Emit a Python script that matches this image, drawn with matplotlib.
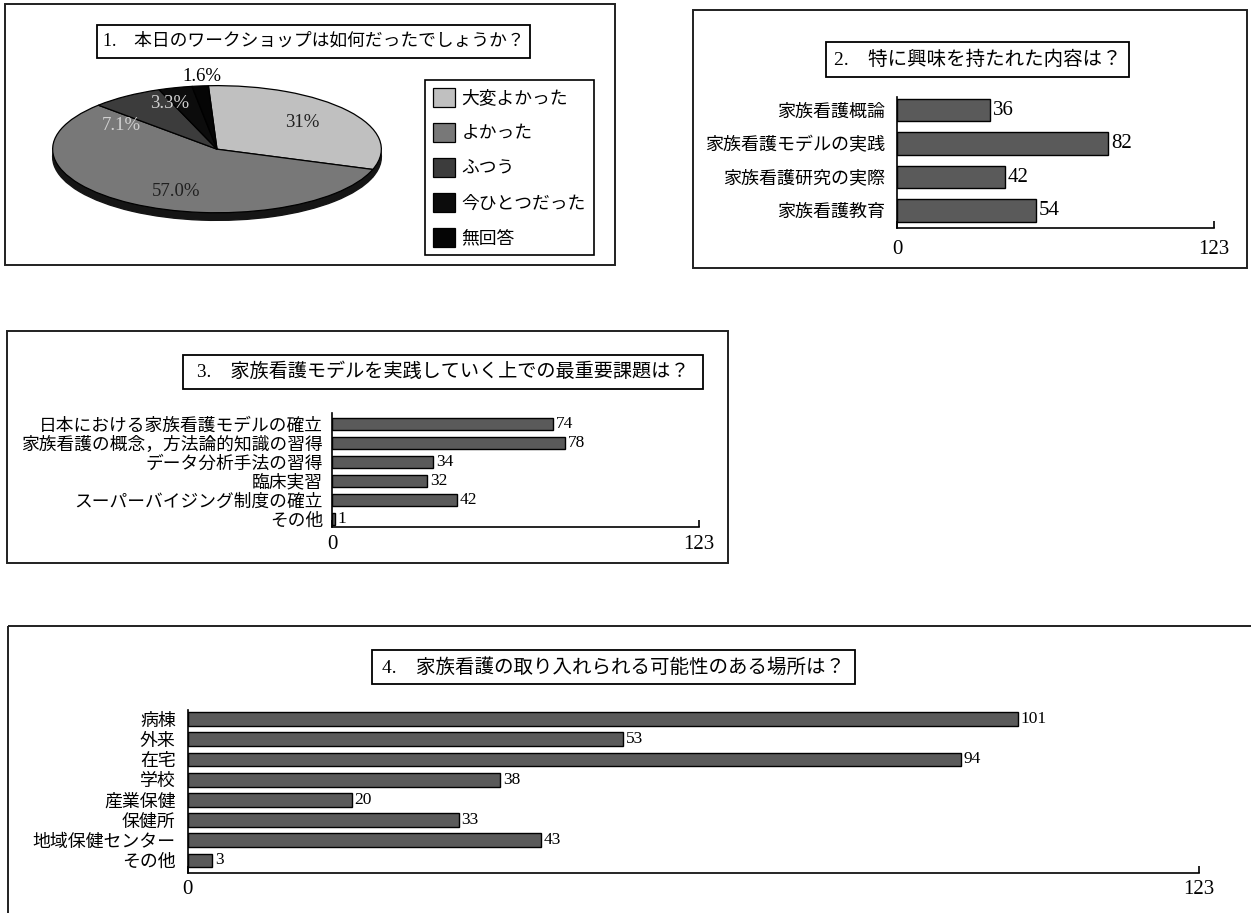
import matplotlib
matplotlib.use('Agg')
import matplotlib.pyplot as plt
from matplotlib.patches import Rectangle

plt.rcParams['font.family'] = ['Liberation Serif', 'Noto Sans CJK JP']

# 1. pie
pie_labels = ['大変よかった', 'よかった', 'ふつう', '今ひとつだった', '無回答']
pie_values = [31, 57.0, 7.1, 3.3, 1.6]
pie_pct = ['31%', '57.0%', '7.1%', '3.3%', '1.6%']

# 2. interest
cats2 = ['家族看護概論', '家族看護モデルの実践', '家族看護研究の実際', '家族看護教育']
vals2 = [36, 82, 42, 54]

# 3. most important issue
cats3 = ['日本における家族看護モデルの確立', '家族看護の概念，方法論的知識の習得',
         'データ分析手法の習得', '臨床実習', 'スーパーバイジング制度の確立', 'その他']
vals3 = [74, 78, 34, 32, 42, 1]

# 4. places
cats4 = ['病棟', '外来', '在宅', '学校', '産業保健', '保健所', '地域保健センター', 'その他']
vals4 = [101, 53, 94, 38, 20, 33, 43, 3]

x_max = 123

W, H = 1251, 913
fig = plt.figure(figsize=(W / 100, H / 100), dpi=100)

bg = fig.add_axes([0, 0, 1, 1], zorder=0)
bg.set_xlim(0, W); bg.set_ylim(H, 0); bg.axis('off')


def px_axes(l, t, r, b):
    return fig.add_axes([l / W, 1 - b / H, (r - l) / W, (b - t) / H], zorder=2)


def frame(l, t, r, b, lw=1.4):
    bg.add_patch(Rectangle((l, t), r - l, b - t, fill=False, ec='#202020', lw=lw, clip_on=False))


def title(l, t, r, b, s, fs=14):
    bg.add_patch(Rectangle((l, t), r - l, b - t, fc='white', ec='black', lw=1.3))
    bg.text((l + r) / 2, (t + b) / 2, s, ha='center', va='center', fontsize=fs)


# panel frames and titles
frame(5, 4, 615, 265)
title(97, 25, 530, 58, '1.\u3000本日のワークショップは如何だったでしょうか？', fs=12.8)
frame(693, 10, 1247, 268)
title(826, 42, 1129, 77, '2.\u3000特に興味を持たれた内容は？')
frame(7, 331, 728, 563)
title(183, 355, 703, 389, '3.\u3000家族看護モデルを実践していく上での最重要課題は？', fs=13.8)
frame(8, 626, 1270, 940)
title(372, 650, 855, 684, '4.\u3000家族看護の取り入れられる可能性のある場所は？')

# pie (squashed into an ellipse)
axp = px_axes(51, 85, 383, 221)
pie_colors = ['#c0c0c0', '#787878', '#3c3c3c', '#0c0c0c', '#050505']
axp.pie(pie_values, startangle=93, counterclock=False, center=(0, -0.12),
        colors=['#151515'] * 5, wedgeprops=dict(ec='#151515', lw=1))
wedges, _ = axp.pie(pie_values, startangle=93, counterclock=False,
                    colors=pie_colors, wedgeprops=dict(ec='black', lw=0.9))
axp.set_aspect('auto')
axp.set_xlim(-1.01, 1.01); axp.set_ylim(-1.13, 1.01)

pct_pos = [(0.52, 0.42), (-0.25, -0.67), (-0.58, 0.375), (-0.29, 0.72), (-0.09, 1.14)]
pct_col = ['#202020', '#202020', '#d0d0d0', '#d0d0d0', 'black']
for s, (x, y), c in zip(pie_pct, pct_pos, pct_col):
    axp.text(x, y, s, ha='center', va='center', fontsize=13.5, color=c, clip_on=False)

leg = axp.legend(wedges, pie_labels, loc='upper left',
                 bbox_to_anchor=(425 / W, 1 - 80 / H), bbox_transform=fig.transFigure,
                 borderaxespad=0, fancybox=False, edgecolor='black', fontsize=12.8,
                 handlelength=1.25, handleheight=1.25, labelspacing=0.88,
                 borderpad=0.45, handletextpad=0.35, framealpha=1)
leg.get_frame().set_linewidth(1.2)


def bar_panel(box, cats, vals, ylim, height, cat_fs, val_fs, tick_fs, cat_pad, tick_pad):
    ax = px_axes(*box)
    y = list(range(len(cats)))
    bars = ax.barh(y, vals, height=height, color='#5a5a5a', edgecolor='black', lw=1)
    ax.set_xlim(0, x_max)
    ax.set_ylim(*ylim)
    ax.set_yticks(y)
    ax.set_yticklabels(cats, fontsize=cat_fs)
    ax.set_xticks([0, x_max])
    ax.set_xticklabels(['0', str(x_max)], fontsize=tick_fs)
    ax.tick_params(axis='y', length=0, pad=cat_pad)
    ax.tick_params(axis='x', direction='in', length=5, width=1.2, pad=tick_pad)
    for sp in ('top', 'right'):
        ax.spines[sp].set_visible(False)
    for sp in ('left', 'bottom'):
        ax.spines[sp].set_linewidth(1.2)
    ax.bar_label(bars, fontsize=val_fs, padding=2)
    ax.patch.set_alpha(0)
    return ax


bar_panel((897, 97, 1214, 228), cats2, vals2, (3.52, -0.39), 0.68, 13, 15, 15, 8.5, 9)
bar_panel((332, 413, 699, 527), cats3, vals3, (5.42, -0.58), 0.62, 12.75, 12.5, 15, 6.5, 6)
bar_panel((187.5, 710, 1199, 873), cats4, vals4, (7.62, -0.45), 0.68, 12.9, 12.5, 15, 8.5, 5)

fig.savefig('out.png', dpi=100)
